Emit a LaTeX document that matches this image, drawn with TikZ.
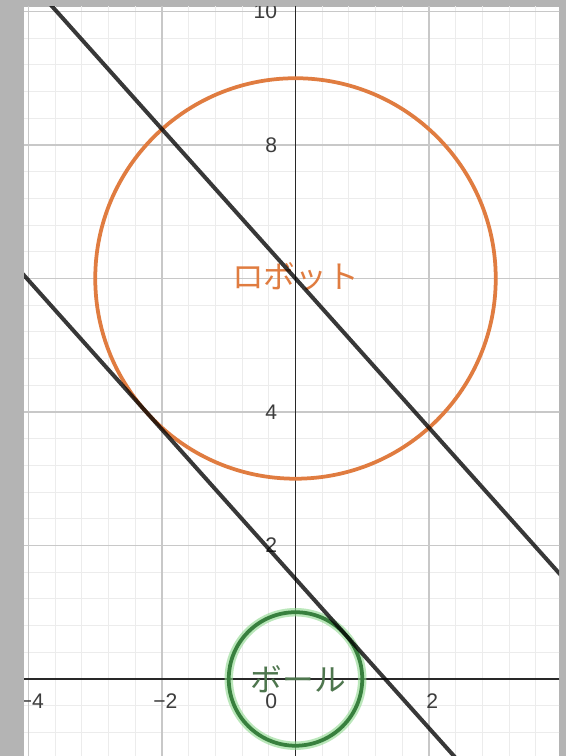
\documentclass[tikz,border=0pt]{standalone}
\usepackage{fontspec}
\newfontfamily\jpfont{Noto Sans CJK JP}
\newfontfamily\numfont{Liberation Sans}
\definecolor{frameGrey}{RGB}{180,180,180}
\definecolor{minorGrid}{RGB}{236,236,236}
\definecolor{majorGrid}{RGB}{200,200,200}
\definecolor{axisCol}{RGB}{40,40,40}
\definecolor{robotOrange}{RGB}{224,124,64}
\definecolor{ballGreen}{RGB}{56,128,62}
\definecolor{ballHalo}{RGB}{140,215,140}
\definecolor{ballText}{RGB}{78,118,78}
\definecolor{tickCol}{RGB}{60,60,60}
\tikzset{
  minorlines/.style={draw=minorGrid, line width=0.45pt},
  majorlines/.style={draw=majorGrid, line width=0.5pt},
  axisline/.style={draw=axisCol, line width=0.75pt},
  ylab/.style={anchor=east, inner sep=0pt, text=tickCol, font=\numfont\fontsize{9}{10}\selectfont},
  xlab/.style={anchor=north, inner sep=0pt, text=tickCol, font=\numfont\fontsize{9}{10}\selectfont},
  robotcircle/.style={draw=robotOrange, line width=1.6pt},
  tangentline/.style={draw=black, opacity=0.78, line width=1.7pt},
  jplabel/.style={inner sep=0pt, font=\jpfont\fontsize{13.5}{15}\selectfont},
}
\begin{document}
\begin{tikzpicture}[x=1cm,y=1cm]
\useasboundingbox (-4.427,-1.154) rectangle (4.052,10.172);
\fill[frameGrey] (-4.427,-1.154) rectangle (4.052,10.172);
\fill[white] (-4.067,-1.154) rectangle (3.948,10.067);
\begin{scope}
\clip (-4.067,-1.154) rectangle (3.948,10.067);
% grid
\draw[minorlines, step=0.4] (-4.8,-1.6) grid (4.8,10.8);
\draw[majorlines, step=2] (-6,-2) grid (6,12);
% axes
\draw[axisline] (-4.6,0) -- (4.6,0);
\draw[axisline] (0,-1.3) -- (0,10.4);
% tick labels
\node[ylab] (y10) at (-0.27,10) {10};
\node[ylab] (y8) at (-0.27,8) {8};
\node[ylab] (y4) at (-0.27,4) {4};
\node[ylab] (y2) at (-0.27,2) {2};
\node[xlab, anchor=north east] (x0) at (-0.27,-0.22) {0};
\node[xlab] (xm4) at (-3.95,-0.22) {\char"2212 4};
\node[xlab] (xm2) at (-1.95,-0.22) {\char"2212 2};
\node[xlab] (x2) at (2.05,-0.22) {2};
% circles
\draw[robotcircle] (0,6) circle (3);
\draw[draw=ballHalo, opacity=0.6, line width=3.6pt] (0,0) circle (1);
\draw[draw=ballGreen, line width=1.6pt] (0,0) circle (1);
% labels
\node[jplabel, text=robotOrange] (robot) at (0,6.02) {ロボット};
\node[jplabel, text=ballText] (ball) at (0.04,0) {ボール};
% lines
\coordinate (ua) at (-4.5,11.031);
\coordinate (ub) at (4.5,0.969);
\coordinate (la) at (-4.5,6.531);
\coordinate (lb) at (4.5,-3.531);
\draw[tangentline] (ua) -- (ub);
\draw[tangentline] (la) -- (lb);
\end{scope}
\end{tikzpicture}
\end{document}
